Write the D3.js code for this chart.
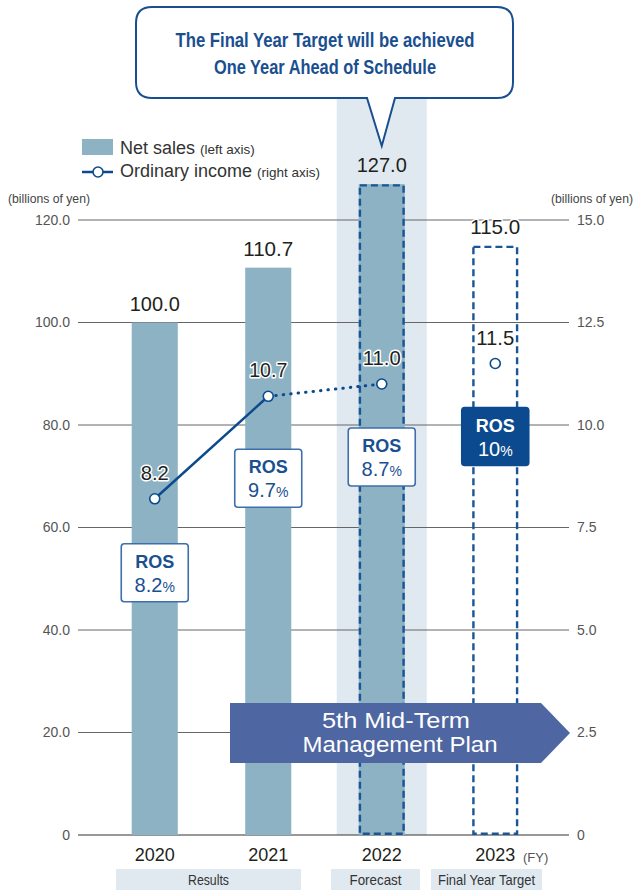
<!DOCTYPE html>
<html>
<head>
<meta charset="utf-8">
<script src="https://cdn.jsdelivr.net/npm/d3@7/dist/d3.min.js"></script>
<style>
  html, body { margin: 0; padding: 0; background: #fff; }
  svg { display: block; font-family: "Liberation Sans", Arial, sans-serif; }
</style>
</head>
<body>
<svg id="chart" width="634" height="890"></svg>
<script>
// ---- data ----
const years = ["2020", "2021", "2022", "2023"];
const netSales = [100.0, 110.7, 127.0, 115.0];          // billions of yen, left axis
const ordinaryIncome = [8.2, 10.7, 11.0, 11.5];         // billions of yen, right axis
const rosLabels = ["8.2", "9.7", "8.7", "10"];          // return on sales, %
const leftTicks = [0, 20, 40, 60, 80, 100, 120];
const rightTicks = [0, 2.5, 5, 7.5, 10, 12.5, 15];
const phaseLabels = ["Results", "Forecast", "Final Year Target"];

// ---- layout ----
const W = 634, H = 890;
const plotLeft = 78, plotRight = 569, baseY = 835, topY = 220;
const blue = "#0b4a8e", boxBlue = "#3f6fab", barFill = "#8cb2c4",
      bandFill = "#e0e9f0", arrowFill = "#4e66a1", textDark = "#231f20";

const svg = d3.select("#chart");

const x = d3.scaleBand().domain(years).range([98, 552])
  .paddingInner(0.594).paddingOuter(0.297);
const yL = d3.scaleLinear().domain([0, 120]).range([baseY, topY]);
const yR = d3.scaleLinear().domain([0, 15]).range([baseY, topY]);
const cx = d => x(d) + x.bandwidth() / 2;

// forecast column highlight
svg.append("rect")
  .attr("x", cx("2022") - 45).attr("y", 92)
  .attr("width", 90).attr("height", baseY - 92)
  .attr("fill", bandFill);

// gridlines with left / right tick labels
const grid = svg.append("g");
leftTicks.forEach(t => {
  grid.append("line")
    .attr("x1", plotLeft).attr("x2", plotRight)
    .attr("y1", yL(t)).attr("y2", yL(t))
    .attr("stroke", t === 0 ? "#333" : "#666").attr("stroke-width", 1);
});
const axisL = d3.axisLeft(yL).tickValues(leftTicks).tickSize(0).tickPadding(0)
  .tickFormat(d => d === 0 ? "0" : d3.format(".1f")(d));
svg.append("g").attr("transform", `translate(70,0)`).call(axisL)
  .call(g => g.select(".domain").remove())
  .call(g => g.selectAll("text").attr("font-size", 14).attr("fill", "#555")
    .attr("font-family", "Liberation Sans, Arial, sans-serif"));
const axisR = d3.axisRight(yR).tickValues(rightTicks).tickSize(0).tickPadding(0)
  .tickFormat(d => d === 0 ? "0" : d3.format(".1f")(d));
svg.append("g").attr("transform", `translate(577,0)`).call(axisR)
  .call(g => g.select(".domain").remove())
  .call(g => g.selectAll("text").attr("font-size", 14).attr("fill", "#555")
    .attr("font-family", "Liberation Sans, Arial, sans-serif"));

// unit captions
svg.append("text").attr("x", 8).attr("y", 203).attr("font-size", 12.5)
  .attr("fill", "#444").attr("textLength", 82).attr("lengthAdjust", "spacingAndGlyphs")
  .text("(billions of yen)");
svg.append("text").attr("x", 551).attr("y", 203).attr("font-size", 12.5)
  .attr("fill", "#444").attr("textLength", 82).attr("lengthAdjust", "spacingAndGlyphs")
  .text("(billions of yen)");

// net sales bars (2020-2022 filled, 2023 target as an empty dashed outline)
const bars = svg.append("g");
years.forEach((yr, i) => {
  const isTarget = i === 3;
  bars.append("rect")
    .attr("x", x(yr)).attr("y", yL(netSales[i]))
    .attr("width", x.bandwidth()).attr("height", baseY - yL(netSales[i]))
    .attr("fill", isTarget ? "none" : barFill);
  if (i >= 2) {
    bars.append("rect")
      .attr("x", x(yr) + 1.2).attr("y", yL(netSales[i]) + 1.2)
      .attr("width", x.bandwidth() - 2.4).attr("height", baseY - yL(netSales[i]) - 2.4)
      .attr("fill", "none").attr("stroke", "#1a5596")
      .attr("stroke-width", 2.4).attr("stroke-dasharray", "7,4");
  }
});

// net sales value labels
const halo = sel => sel.attr("stroke", "#fff").attr("stroke-width", 3)
  .attr("paint-order", "stroke").attr("stroke-linejoin", "round");
years.forEach((yr, i) => {
  svg.append("text")
    .attr("x", cx(yr)).attr("y", yL(netSales[i]) - 12)
    .attr("text-anchor", "middle").attr("font-size", 21).attr("fill", textDark)
    .attr("textLength", 50).attr("lengthAdjust", "spacingAndGlyphs")
    .call(i === 3 ? halo : s => s)
    .text(d3.format(".1f")(netSales[i]));
});

// ordinary income line: solid for results, dotted into the forecast
const pts = years.map((yr, i) => [cx(yr), yR(ordinaryIncome[i])]);
const line = d3.line();
svg.append("path").attr("d", line(pts.slice(0, 2)))
  .attr("fill", "none").attr("stroke", blue).attr("stroke-width", 2.5);
svg.append("path").attr("d", line(pts.slice(1, 3)))
  .attr("fill", "none").attr("stroke", blue).attr("stroke-width", 3)
  .attr("stroke-linecap", "round").attr("stroke-dasharray", "0.5,7");
pts.forEach(p => {
  svg.append("circle").attr("cx", p[0]).attr("cy", p[1]).attr("r", 5)
    .attr("fill", "#fff").attr("stroke", blue).attr("stroke-width", 1.6);
});
years.forEach((yr, i) => {
  svg.append("text")
    .attr("x", cx(yr)).attr("y", yR(ordinaryIncome[i]) - 19)
    .attr("text-anchor", "middle").attr("font-size", 21).attr("fill", textDark)
    .attr("textLength", ordinaryIncome[i] >= 10 ? 38 : 28)
    .attr("lengthAdjust", "spacingAndGlyphs")
    .call(halo)
    .text(d3.format(".1f")(ordinaryIncome[i]));
});

// ROS boxes below each income point
const rosOffset = [45, 53, 44, 44];
years.forEach((yr, i) => {
  const filled = i === 3;
  const top = yR(ordinaryIncome[i]) + rosOffset[i];
  const g = svg.append("g").attr("transform", `translate(${cx(yr) - 33.5},${top})`);
  g.append("rect").attr("width", 67).attr("height", 58).attr("rx", 3)
    .attr("fill", filled ? "#0c4a8f" : "#fff")
    .attr("stroke", filled ? "#0c4a8f" : boxBlue).attr("stroke-width", 1.6);
  const tc = filled ? "#fff" : "#1a4f90";
  g.append("text").attr("x", 33.5).attr("y", 24).attr("text-anchor", "middle")
    .attr("font-size", 19).attr("font-weight", "bold").attr("fill", tc)
    .attr("textLength", 39).attr("lengthAdjust", "spacingAndGlyphs").text("ROS");
  const t = g.append("text").attr("x", 33.5).attr("y", 48).attr("text-anchor", "middle")
    .attr("fill", tc);
  t.append("tspan").attr("font-size", 20).text(rosLabels[i]);
  t.append("tspan").attr("font-size", 14).text("%");
});

// 5th Mid-Term Management Plan arrow
const ax0 = 230, ax1 = 541, axTip = 570, aTop = 703, aBot = 763;
svg.append("path")
  .attr("d", `M${ax0},${aTop}H${ax1}L${axTip},${(aTop + aBot) / 2}L${ax1},${aBot}H${ax0}Z`)
  .attr("fill", arrowFill);
svg.append("text").attr("x", 396).attr("y", 728).attr("text-anchor", "middle")
  .attr("font-size", 22).attr("fill", "#fff")
  .attr("textLength", 148).attr("lengthAdjust", "spacingAndGlyphs").text("5th Mid-Term");
svg.append("text").attr("x", 400).attr("y", 752).attr("text-anchor", "middle")
  .attr("font-size", 22).attr("fill", "#fff")
  .attr("textLength", 195).attr("lengthAdjust", "spacingAndGlyphs").text("Management Plan");

// year labels
const axisX = d3.axisBottom(x).tickSize(0).tickPadding(0);
svg.append("g").attr("transform", `translate(0,848)`).call(axisX)
  .call(g => g.select(".domain").remove())
  .call(g => g.selectAll("text").attr("font-size", 18).attr("fill", textDark)
    .attr("font-family", "Liberation Sans, Arial, sans-serif").attr("dy", "0.71em"));
svg.append("text").attr("x", 523).attr("y", 862).attr("font-size", 13)
  .attr("fill", "#555").text("(FY)");

// phase bands under the years
const phases = [
  { x0: 116, x1: 301 },
  { x0: 331, x1: 420 },
  { x0: 431, x1: 542 }
];
phases.forEach((p, i) => {
  svg.append("rect").attr("x", p.x0).attr("y", 869).attr("width", p.x1 - p.x0)
    .attr("height", 21).attr("fill", bandFill);
  svg.append("text").attr("x", (p.x0 + p.x1) / 2).attr("y", 885)
    .attr("text-anchor", "middle").attr("font-size", 14.5).attr("fill", "#333")
    .attr("textLength", [41, 52, 97][i]).attr("lengthAdjust", "spacingAndGlyphs")
    .text(phaseLabels[i]);
});

// legend
svg.append("rect").attr("x", 82).attr("y", 139).attr("width", 31).attr("height", 16)
  .attr("fill", barFill);
svg.append("line").attr("x1", 82).attr("x2", 113).attr("y1", 172).attr("y2", 172)
  .attr("stroke", blue).attr("stroke-width", 2.5);
svg.append("circle").attr("cx", 98).attr("cy", 172).attr("r", 5)
  .attr("fill", "#fff").attr("stroke", blue).attr("stroke-width", 1.6);
const lg1 = svg.append("text").attr("x", 120).attr("y", 154).attr("fill", "#333");
lg1.append("tspan").attr("font-size", 18).text("Net sales ");
lg1.append("tspan").attr("font-size", 13.5).text("(left axis)");
const lg2 = svg.append("text").attr("x", 120).attr("y", 177).attr("fill", "#333");
lg2.append("tspan").attr("font-size", 18).text("Ordinary income ");
lg2.append("tspan").attr("font-size", 13.5).text("(right axis)");

// callout bubble
const bx0 = 136, bx1 = 513, by0 = 7, by1 = 98, r = 16;
const tipX = cx("2022"), tipY = 146;
svg.append("path")
  .attr("d", `M${bx0 + r},${by0}H${bx1 - r}Q${bx1},${by0} ${bx1},${by0 + r}` +
    `V${by1 - r}Q${bx1},${by1} ${bx1 - r},${by1}H395L${tipX},${tipY}L367,${by1}` +
    `H${bx0 + r}Q${bx0},${by1} ${bx0},${by1 - r}V${by0 + r}Q${bx0},${by0} ${bx0 + r},${by0}Z`)
  .attr("fill", "#fff").attr("stroke", "#1a4f8f").attr("stroke-width", 2);
svg.append("text").attr("x", 325).attr("y", 47).attr("text-anchor", "middle")
  .attr("font-size", 21).attr("font-weight", "bold").attr("fill", "#1a4f8f")
  .attr("textLength", 299).attr("lengthAdjust", "spacingAndGlyphs")
  .text("The Final Year Target will be achieved");
svg.append("text").attr("x", 325).attr("y", 74).attr("text-anchor", "middle")
  .attr("font-size", 21).attr("font-weight", "bold").attr("fill", "#1a4f8f")
  .attr("textLength", 222).attr("lengthAdjust", "spacingAndGlyphs")
  .text("One Year Ahead of Schedule");
</script>
</body>
</html>
